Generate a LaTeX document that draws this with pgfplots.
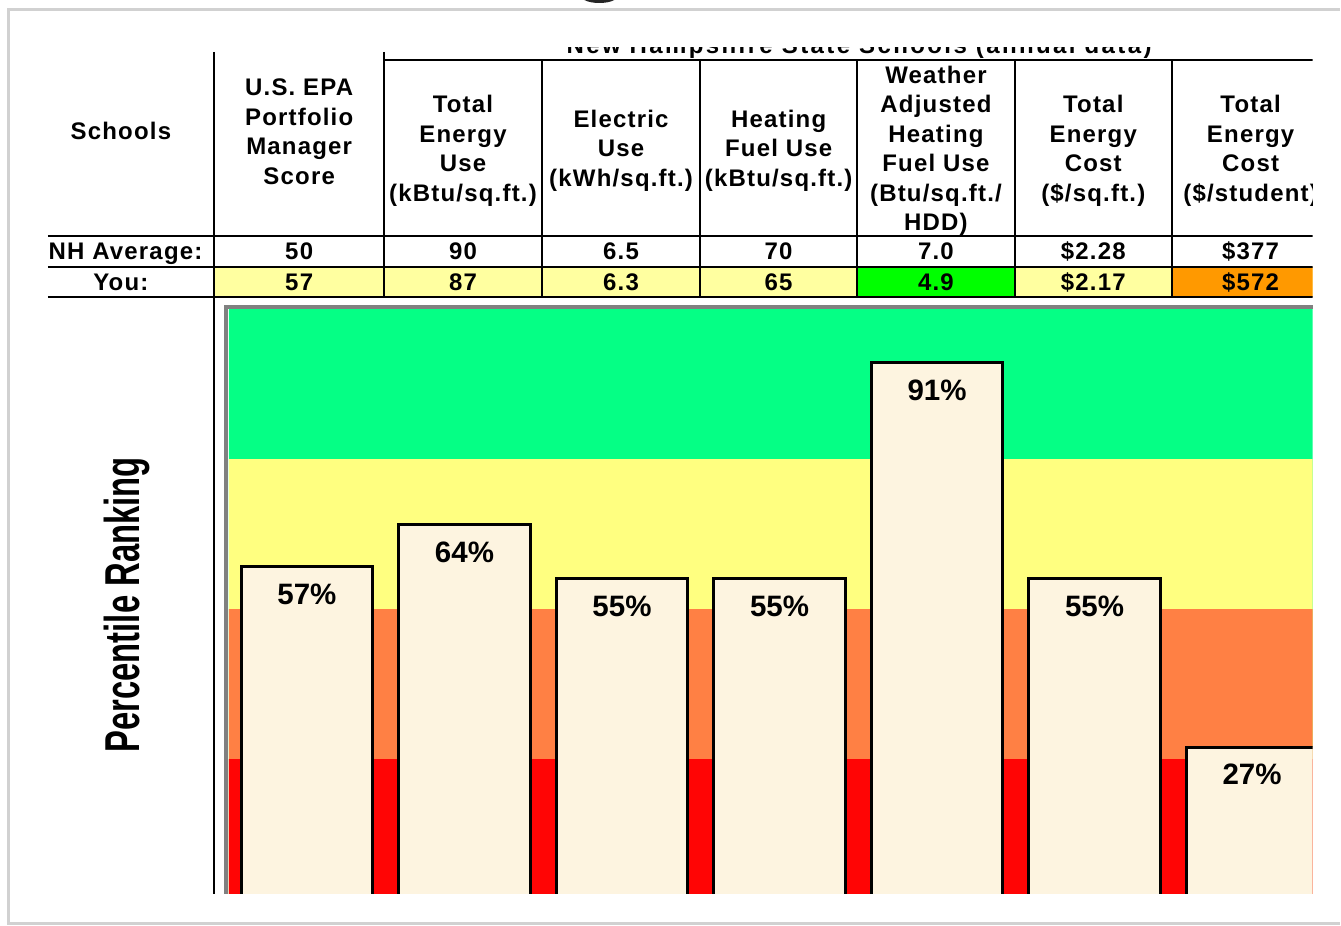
\documentclass[border=0pt]{standalone}
\usepackage{graphicx}
\usepackage{pgfplots}
\pgfplotsset{compat=1.18}
\usepackage{fontspec}
\setmainfont{Liberation Sans}
\newfontfamily\tabfont[LetterSpace=5]{Liberation Sans}
\newfontfamily\wideheadfont[LetterSpace=10]{Liberation Sans}
\definecolor{bandgreen}{RGB}{5,255,133}
\definecolor{bandyellow}{RGB}{255,255,128}
\definecolor{bandorange}{RGB}{255,128,68}
\definecolor{bandred}{RGB}{255,5,5}
\definecolor{barcream}{RGB}{253,244,224}
\definecolor{rowyellow}{RGB}{255,255,160}
\definecolor{cellgreen}{RGB}{0,255,0}
\definecolor{cellorange}{RGB}{255,153,0}
\newcommand{\tf}{\tabfont\bfseries\fontsize{13.66pt}{16pt}\selectfont}
\newcommand{\hd}[3]{\node[anchor=base,inner sep=0pt,font=\tf] at (#1,#2) {#3};}
\begin{document}
\begin{tikzpicture}
\begin{scope}[x=0.2mm,y=-0.2mm]
\path[use as bounding box] (0,0) rectangle (1341,927);
\end{scope}
\begin{axis}[
  scale only axis,
  width=217mm, height=120.26mm,
  at={(45.8mm,-182.06mm)}, anchor=south west,
  xmin=-0.4965, xmax=6.384,
  ymin=0, ymax=100,
  hide axis,
  clip=true,
  /pgf/number format/assume math mode=true,
]
\addplot[fill=bandgreen, draw=none] coordinates {(-1,100) (7,100)} \closedcycle;
\addplot[fill=bandyellow, draw=none] coordinates {(-1,75) (7,75)} \closedcycle;
\addplot[fill=bandorange, draw=none] coordinates {(-1,50) (7,50)} \closedcycle;
\addplot[fill=bandred, draw=none] coordinates {(-1,25) (7,25)} \closedcycle;
\addplot[ybar, bar width=0.837, fill=barcream, draw=black, line width=0.6mm,
  nodes near coords={\pgfmathprintnumber{\pgfplotspointmeta}\%},
  every node near coord/.append style={anchor=north, yshift=-3.1mm, inner sep=0pt, text=black,
    font=\bfseries\fontsize{16.8pt}{18pt}\selectfont}]
  coordinates {(0,57) (1,64) (2,55) (3,55) (4,91) (5,55) (6,27)};
\end{axis}
\begin{scope}[x=0.2mm,y=-0.2mm]
% hide the part of the plot below the cropped bottom edge
\fill[white] (216,894.5) rectangle (1341,916);
% outer frame
\draw[black!18, line width=0.6mm] (1341,10) -- (9,10) -- (9,925) -- (1341,925);
\fill[black!85] (585,0) .. controls (592,4) and (608,4) .. (615,0) -- cycle;
% plot border
\draw[gray, line width=0.9mm] (226.5,894.5) -- (226.5,307.3) -- (1314,307.3);
% axis title
\node[rotate=90, anchor=base, inner sep=0pt] at (140,605.5)
  {\scalebox{0.67}[1]{\bfseries\fontsize{27.9pt}{30pt}\selectfont Percentile Ranking}};
\begin{scope}
\clip (48,48) rectangle (1314,927);
\node[anchor=base,inner sep=0pt,font=\wideheadfont\bfseries\fontsize{13.66pt}{16pt}\selectfont] at (860,54) {New Hampshire State Schools (annual data)};
\end{scope}
\begin{scope}
\clip (48,46) rectangle (1314,927);
\fill[rowyellow] (214.5,267.5) rectangle (1314,297.5);
\fill[cellgreen] (858,267.5) rectangle (1016,297.5);
\fill[cellorange] (1173,267.5) rectangle (1314,297.5);
\begin{scope}[line width=0.4mm]
\draw (214.5,52) -- (214.5,894.5);
\draw (384.5,52) -- (384.5,297.5);
\foreach \xx in {542.5,701,858,1016,1173} { \draw (\xx,60.5) -- (\xx,297.5); }
\draw (384.5,60.5) -- (1314,60.5);
\draw (48,236.5) -- (1314,236.5);
\draw (48,267.5) -- (1314,267.5);
\draw (48,297.5) -- (1314,297.5);
\end{scope}
\hd{121}{140}{Schools}
\hd{299.5}{96}{U.S. EPA}
\hd{299.5}{125.5}{Portfolio}
\hd{299.5}{155}{Manager}
\hd{299.5}{184.5}{Score}
\hd{463.5}{112.75}{Total}
\hd{463.5}{142.25}{Energy}
\hd{463.5}{171.75}{Use}
\hd{463.5}{201.25}{(kBtu/sq.ft.)}
\hd{621.75}{127.5}{Electric}
\hd{621.75}{157}{Use}
\hd{621.75}{186.5}{(kWh/sq.ft.)}
\hd{779.5}{127.5}{Heating}
\hd{779.5}{157}{Fuel Use}
\hd{779.5}{186.5}{(kBtu/sq.ft.)}
\hd{937}{83.25}{Weather}
\hd{937}{112.75}{Adjusted}
\hd{937}{142.25}{Heating}
\hd{937}{171.75}{Fuel Use}
\hd{937}{201.25}{(Btu/sq.ft./}
\hd{937}{230.75}{HDD)}
\hd{1094.5}{112.75}{Total}
\hd{1094.5}{142.25}{Energy}
\hd{1094.5}{171.75}{Cost}
\hd{1094.5}{201.25}{(\$/sq.ft.)}
\hd{1252}{112.75}{Total}
\hd{1252}{142.25}{Energy}
\hd{1252}{171.75}{Cost}
\hd{1252}{201.25}{(\$/student)}
\node[anchor=base east,inner sep=0pt,font=\tf] at (203,259.5) {NH Average:};
\hd{121}{290.5}{You:}
\hd{299.5}{259.5}{50}
\hd{463.5}{259.5}{90}
\hd{621.75}{259.5}{6.5}
\hd{779.5}{259.5}{70}
\hd{937}{259.5}{7.0}
\hd{1094.5}{259.5}{\$2.28}
\hd{1252}{259.5}{\$377}
\hd{299.5}{290.5}{57}
\hd{463.5}{290.5}{87}
\hd{621.75}{290.5}{6.3}
\hd{779.5}{290.5}{65}
\hd{937}{290.5}{4.9}
\hd{1094.5}{290.5}{\$2.17}
\hd{1252}{290.5}{\$572}
\end{scope}
\end{scope}
\end{tikzpicture}
\end{document}
